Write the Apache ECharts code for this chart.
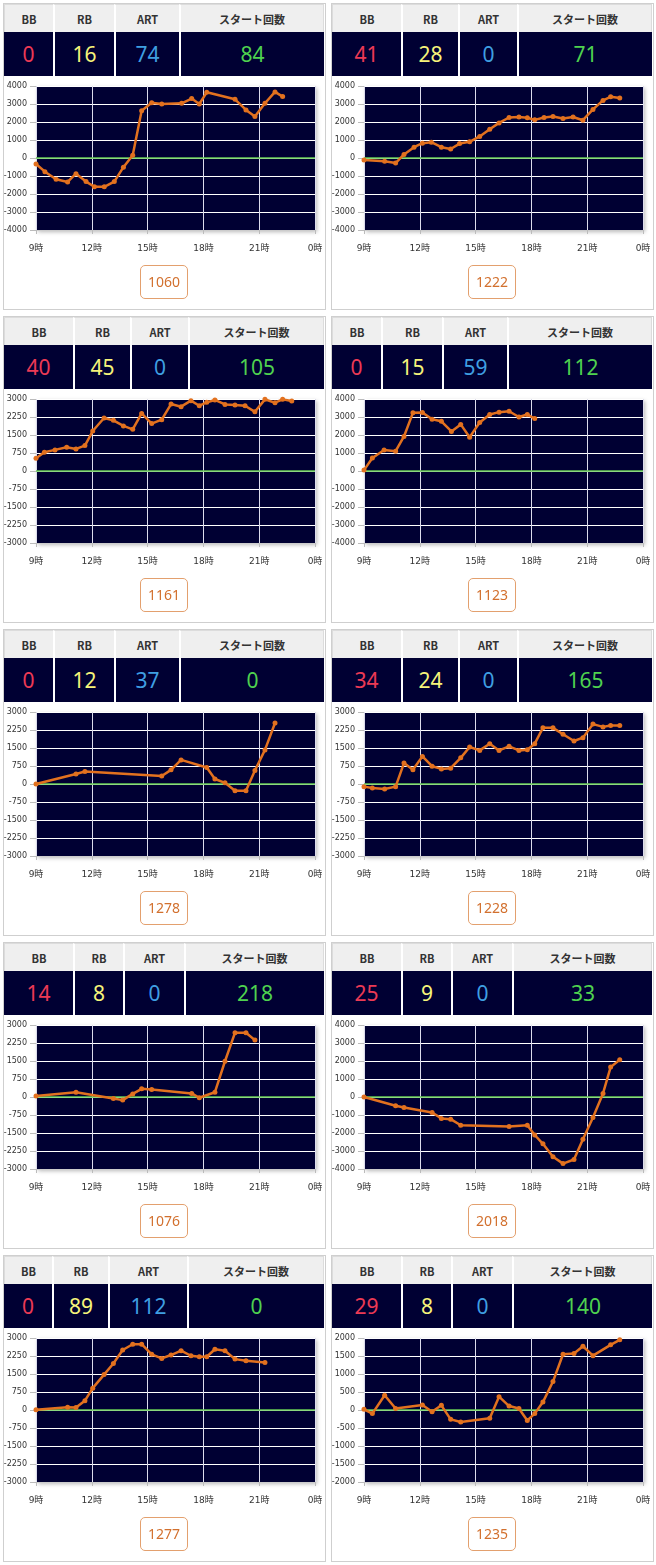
<!DOCTYPE html>
<html><head><meta charset="utf-8">
<script src="https://cdn.jsdelivr.net/npm/echarts@6/dist/echarts.min.js"></script>
<style>
html,body{margin:0;padding:0;background:#fff;}
body{width:656px;height:1565px;position:relative;overflow:hidden;font-family:"Noto Sans CJK JP","Noto Sans",sans-serif;}
.panel{position:absolute;width:323px;height:307px;box-sizing:border-box;border:1px solid #cfcfcf;background:#fff;}
.row{position:absolute;left:0;width:320px;display:flex;}
.hrow{top:0;height:28px;}
.vrow{top:28px;height:44px;}
.cell{box-sizing:border-box;height:100%;display:flex;align-items:center;justify-content:center;border-left:2px solid #fff;}
.hrow .cell{background:#efefef;color:#333;font-size:11px;font-weight:bold;border-top:1px solid #dcdcdc;}
.hrow .cell:first-child{border-left:1px solid #dcdcdc;}
.hrow .cell:last-child{border-right:1px solid #dcdcdc;}
.vrow .cell{background:#000033;font-size:21px;font-family:"Noto Sans","Open Sans",sans-serif;}
.vrow .cell:first-child{border-left:none;}
.chart{position:absolute;left:-3px;top:72px;width:324px;height:190px;}
.btn{position:absolute;left:136px;top:261px;width:48px;height:34px;box-sizing:border-box;border:1px solid #e3a06e;border-radius:5px;color:#d2702e;font-size:14px;line-height:32px;text-align:center;font-family:"Noto Sans","Open Sans",sans-serif;}
</style>
</head><body>
<script>
// ---- data ----
const headerLabels = ['BB', 'RB', 'ART', 'スタート回数'];
const xTickLabels = ['9時', '12時', '15時', '18時', '21時', '0時'];
const bbCounts = [0, 41, 40, 0, 0, 34, 14, 25, 0, 29];
const rbCounts = [16, 28, 45, 15, 12, 24, 8, 9, 89, 8];
const artCounts = [74, 0, 0, 59, 37, 0, 0, 0, 112, 0];
const startCounts = [84, 71, 105, 112, 0, 165, 218, 33, 0, 140];
const totalGames = [1060, 1222, 1161, 1123, 1278, 1228, 1076, 2018, 1277, 1235];
const yMax = [4000, 4000, 3000, 4000, 3000, 3000, 3000, 4000, 3000, 2000];
const yStep = [1000, 1000, 750, 1000, 750, 750, 750, 1000, 750, 500];

const p1Hours = [9.0, 9.48, 10.08, 10.7, 11.15, 11.69, 12.14, 12.67, 13.21, 13.7, 14.2, 14.68, 15.22, 15.76, 16.83, 17.37, 17.78, 18.18, 19.7, 20.29, 20.77, 21.31, 21.85, 22.26];
const p1Diff = [-330, -760, -1180, -1330, -870, -1310, -1600, -1600, -1310, -510, 150, 2630, 3070, 3000, 3040, 3300, 3000, 3650, 3260, 2670, 2300, 3040, 3670, 3410];
const p2Hours = [9.0, 10.11, 10.7, 11.15, 11.69, 12.14, 12.62, 13.16, 13.66, 14.14, 14.68, 15.22, 15.76, 16.26, 16.8, 17.33, 17.78, 18.18, 18.68, 19.16, 19.7, 20.24, 20.77, 21.31, 21.85, 22.26, 22.75];
const p2Diff = [-110, -180, -280, 200, 600, 820, 880, 600, 500, 800, 900, 1200, 1600, 1950, 2250, 2280, 2240, 2120, 2250, 2300, 2200, 2280, 2100, 2700, 3200, 3400, 3330];
const p3Hours = [9.0, 9.45, 10.02, 10.65, 11.15, 11.63, 12.05, 12.66, 13.16, 13.7, 14.2, 14.68, 15.22, 15.76, 16.26, 16.8, 17.33, 17.78, 18.18, 18.62, 19.16, 19.7, 20.24, 20.77, 21.31, 21.85, 22.26, 22.75];
const p3Diff = [530, 780, 880, 990, 920, 1060, 1665, 2210, 2110, 1880, 1735, 2400, 1975, 2140, 2790, 2680, 2930, 2720, 2860, 2960, 2775, 2745, 2720, 2465, 2985, 2845, 2985, 2915];
const p4Hours = [9.0, 9.45, 10.08, 10.7, 11.15, 11.63, 12.14, 12.66, 13.16, 13.7, 14.2, 14.68, 15.22, 15.76, 16.26, 16.8, 17.33, 17.78, 18.18];
const p4Diff = [50, 720, 1170, 1100, 1920, 3230, 3250, 2870, 2760, 2200, 2590, 1880, 2690, 3140, 3270, 3320, 3000, 3140, 2910];
const p5Hours = [9.0, 11.15, 11.63, 15.76, 16.26, 16.8, 18.18, 18.62, 19.16, 19.7, 20.29, 20.77, 21.31, 21.85];
const p5Diff = [0, 420, 520, 335, 590, 1005, 685, 210, 50, -280, -280, 560, 1420, 2540];
const p6Hours = [9.0, 9.45, 10.11, 10.7, 11.15, 11.63, 12.14, 12.66, 13.16, 13.66, 14.2, 14.68, 15.22, 15.76, 16.26, 16.8, 17.33, 17.78, 18.18, 18.62, 19.16, 19.7, 20.29, 20.77, 21.31, 21.85, 22.26, 22.75];
const p6Diff = [-110, -170, -210, -110, 870, 590, 1150, 740, 630, 660, 1090, 1540, 1400, 1680, 1400, 1570, 1400, 1430, 1680, 2340, 2340, 2075, 1790, 1930, 2495, 2380, 2440, 2440];
const p7Hours = [9.0, 11.15, 13.16, 13.66, 14.2, 14.68, 15.22, 17.37, 17.78, 18.62, 19.16, 19.7, 20.29, 20.77];
const p7Diff = [40, 200, -60, -130, 130, 340, 310, 150, -30, 200, 1490, 2680, 2680, 2370];
const p8Hours = [9.0, 10.7, 11.15, 12.66, 13.16, 13.66, 14.2, 16.8, 17.78, 18.18, 18.62, 19.16, 19.7, 20.29, 20.77, 21.31, 21.85, 22.26, 22.75];
const p8Diff = [0, -490, -580, -860, -1190, -1230, -1570, -1640, -1570, -2110, -2600, -3320, -3700, -3470, -2350, -1140, 200, 1660, 2070];
const p9Hours = [9.0, 10.7, 11.15, 11.63, 12.05, 12.66, 13.16, 13.66, 14.2, 14.68, 15.22, 15.76, 16.26, 16.8, 17.33, 17.78, 18.18, 18.62, 19.16, 19.7, 20.29, 21.31];
const p9Diff = [15, 110, 100, 390, 910, 1475, 1940, 2500, 2740, 2740, 2320, 2150, 2290, 2470, 2260, 2220, 2220, 2530, 2470, 2120, 2050, 1980];
const p10Hours = [9.0, 9.45, 10.11, 10.7, 12.14, 12.66, 13.16, 13.66, 14.2, 15.76, 16.26, 16.8, 17.33, 17.78, 18.18, 18.62, 19.16, 19.7, 20.29, 20.77, 21.31, 22.26, 22.75];
const p10Diff = [20, -100, 410, 40, 140, -50, 130, -260, -335, -230, 370, 110, 40, -290, -100, 220, 790, 1550, 1570, 1770, 1510, 1810, 1950];

const allHours = [p1Hours, p2Hours, p3Hours, p4Hours, p5Hours, p6Hours, p7Hours, p8Hours, p9Hours, p10Hours];
const allDiff = [p1Diff, p2Diff, p3Diff, p4Diff, p5Diff, p6Diff, p7Diff, p8Diff, p9Diff, p10Diff];

// ---- layout (not data) ----
const colWidths = [[49,61,65,145],[69,57,59,135],[69,57,58,136],[49,61,65,145],[49,61,65,145],[69,57,59,135],[69,50,61,140],[69,50,61,140],[48,56,79,137],[69,50,61,140]];
const valueColors = ['#ec3a55', '#f6f47a', '#3f9fe2', '#4fd24f'];

for (let i = 0; i < 10; i++) {
  const col = i % 2, row = Math.floor(i / 2);
  const panel = document.createElement('div');
  panel.className = 'panel';
  panel.style.left = (col === 0 ? 3 : 331) + 'px';
  panel.style.top = (3 + row * 313) + 'px';

  const hrow = document.createElement('div');
  hrow.className = 'row hrow';
  const vrow = document.createElement('div');
  vrow.className = 'row vrow';
  const vals = [bbCounts[i], rbCounts[i], artCounts[i], startCounts[i]];
  for (let c = 0; c < 4; c++) {
    const h = document.createElement('div');
    h.className = 'cell';
    h.style.width = colWidths[i][c] + 'px';
    h.textContent = headerLabels[c];
    hrow.appendChild(h);
    const v = document.createElement('div');
    v.className = 'cell';
    v.style.width = colWidths[i][c] + 'px';
    v.style.color = valueColors[c];
    v.textContent = String(vals[c]);
    vrow.appendChild(v);
  }
  panel.appendChild(hrow);
  panel.appendChild(vrow);

  const chartDiv = document.createElement('div');
  chartDiv.className = 'chart';
  panel.appendChild(chartDiv);

  const btn = document.createElement('div');
  btn.className = 'btn';
  btn.textContent = String(totalGames[i]);
  panel.appendChild(btn);

  document.body.appendChild(panel);

  const chart = echarts.init(chartDiv, null, {renderer: 'canvas'});
  const data = allHours[i].map((h, k) => [h, allDiff[i][k]]);
  chart.setOption({
    animation: false,
    grid: {
      left: 35, top: 10, width: 279, height: 144,
      containLabel: false, outerBoundsMode: 'none',
      show: true, backgroundColor: '#000033', borderWidth: 0,
      shadowColor: 'rgba(0,0,0,0.28)', shadowBlur: 4, shadowOffsetX: 2, shadowOffsetY: 2
    },
    xAxis: {
      type: 'value', min: 9, max: 24, interval: 3,
      axisLine: {show: true, onZero: false, lineStyle: {color: '#cccccc'}},
      axisTick: {show: true, length: 4, lineStyle: {color: '#bbbbbb'}},
      axisLabel: {
        formatter: v => xTickLabels[Math.round((v - 9) / 3)],
        fontSize: 9, color: '#333', margin: 14,
        fontFamily: '"DejaVu Sans","Noto Sans CJK JP",sans-serif'
      },
      splitLine: {show: true, lineStyle: {color: '#dcdcec', width: 1}}
    },
    yAxis: {
      type: 'value', min: -yMax[i], max: yMax[i], interval: yStep[i],
      axisLine: {show: false},
      axisTick: {show: true, length: 6, lineStyle: {color: '#bbbbbb'}},
      axisLabel: {formatter: v => String(v), fontSize: 8, color: '#333', margin: 9, fontFamily: '"DejaVu Sans",sans-serif'},
      splitLine: {show: true, lineStyle: {color: '#ffffff', width: 1}}
    },
    series: [{
      type: 'line', z: 10, data: data,
      symbol: 'circle', symbolSize: 5, showSymbol: true,
      lineStyle: {color: '#e2711f', width: 2.5},
      itemStyle: {color: '#e2711f'},
      markLine: {
        silent: true, symbol: 'none', label: {show: false},
        lineStyle: {color: '#66cc55', width: 1.5, type: 'solid'},
        data: [{yAxis: 0}]
      }
    }]
  });
}
</script>
</body></html>
